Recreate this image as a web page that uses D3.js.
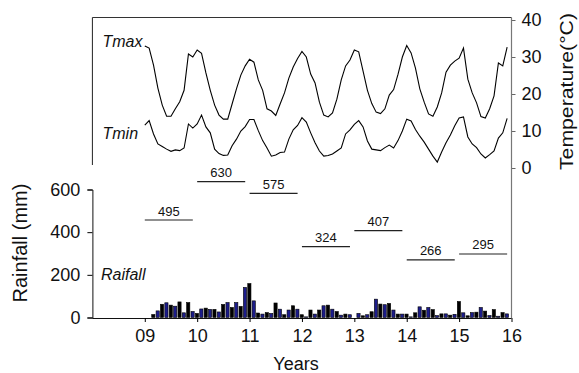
<!DOCTYPE html>
<html><head><meta charset="utf-8">
<script src="https://cdn.jsdelivr.net/npm/d3@7"></script>
<style>
html,body{margin:0;padding:0;background:#fff;}
svg{display:block;font-family:"Liberation Sans",Arial,sans-serif;}
</style></head>
<body><svg id="c" width="579" height="373"></svg>
<script>
// Monthly series, Jan 2009 .. Dec 2015
const startYear = 2009;
const tmax = [
 33.0,32.4,27.8,21.6,17.0,14.0,14.0,16.0,17.9,21.0,30.8,30.0,
 31.9,31.0,25.7,21.0,17.0,14.3,13.2,13.2,17.3,21.4,25.1,27.6,
 29.4,28.6,23.8,21.0,16.0,15.4,14.2,17.3,20.3,24.3,27.3,29.6,
 31.5,30.0,25.4,23.0,17.8,14.3,13.8,14.9,18.6,23.8,27.6,29.2,
 31.9,31.4,26.2,21.0,17.4,15.1,14.7,16.0,19.7,21.2,25.3,30.0,
 33.1,31.1,27.0,21.4,17.8,14.6,14.0,16.5,20.3,25.9,27.8,28.9,
 29.7,32.4,24.0,20.3,17.6,13.9,13.5,16.0,19.5,28.4,27.6,32.7];
const tmin = [
 11.6,12.8,9.2,6.5,5.8,5.1,4.5,4.9,4.7,5.4,11.9,10.8,
 11.9,14.3,11.1,9.5,5.1,3.9,3.4,3.5,6.0,7.8,10.0,11.2,
 13.1,13.1,10.1,7.4,5.4,3.2,3.5,4.2,4.3,7.8,10.3,11.5,
 13.6,12.4,9.5,6.8,4.6,3.2,3.4,3.8,4.6,5.4,9.2,10.3,
 11.8,12.8,11.1,7.3,5.1,4.9,4.7,5.5,6.2,5.4,7.4,10.0,
 13.2,12.7,10.4,8.6,7.0,5.1,3.2,1.6,4.3,6.8,8.9,11.4,
 13.5,13.8,8.4,6.5,5.5,3.8,2.7,3.6,4.6,8.1,9.5,13.4];
const rainfall = [
 null,null,14,31,62,69,58,53,73,22,70,28,
 19,40,44,38,38,26,61,70,47,70,52,141,
 159,78,21,16,23,19,68,39,13,35,55,39,
 13,3,35,16,35,55,58,39,28,11,16,13,
 0,19,8,13,27,86,63,60,66,35,16,16,
 16,3,22,50,34,47,37,9,17,17,11,15,
 75,22,8,23,25,47,30,9,37,6,23,17];
const totalYears = [2009,2010,2011,2012,2013,2014,2015];
const totalLabels = [495,630,575,324,407,266,295];
const totalLineLevels = [457,637,582,332,407,270,298];
const yearTicks = [2009,2010,2011,2012,2013,2014,2015,2016];
const rainTicks = [0,200,400,600];
const tempTicks = [0,10,20,30,40];

const svg = d3.select("#c");
const x = d3.scaleLinear().domain([2008,2016]).range([92.4,511.5]);
const yT = d3.scaleLinear().domain([0,40]).range([168,20]);
const yR = d3.scaleLinear().domain([0,600]).range([317.5,189.5]);
const t = i => startYear + i/12;

// frame: top line and left upper line
svg.append("line").attr("x1",92.4).attr("x2",511.5).attr("y1",17.5).attr("y2",17.5)
  .attr("stroke","#333").attr("stroke-width",1);
svg.append("line").attr("x1",92.4).attr("x2",92.4).attr("y1",17.5).attr("y2",165)
  .attr("stroke","#222").attr("stroke-width",1);

// Rain axis (left)
const gL = svg.append("g").attr("transform","translate(92.4,0)")
  .call(d3.axisLeft(yR).tickValues(rainTicks).tickSize(5).tickPadding(7).tickFormat(d3.format("d")));
gL.select(".domain").attr("stroke","#111");
gL.selectAll("text").attr("font-size",18).attr("fill","#111").attr("font-family","Liberation Sans, Arial, sans-serif");

// Temperature axis (right)
const gR = svg.append("g").attr("transform","translate(511.5,0)")
  .call(d3.axisRight(yT).tickValues(tempTicks).tickSize(4).tickPadding(6));
gR.select(".domain").remove();
gR.selectAll(".tick line").attr("stroke","#666");
gR.selectAll("text").attr("font-size",18).attr("fill","#111").attr("font-family","Liberation Sans, Arial, sans-serif");
svg.append("line").attr("x1",511.5).attr("x2",511.5).attr("y1",17.5).attr("y2",318)
  .attr("stroke","#777").attr("stroke-width",1.2);

// Bottom axis
const gB = svg.append("g").attr("transform","translate(0,318)")
  .call(d3.axisBottom(x).tickValues(yearTicks).tickSize(4).tickPadding(7)
    .tickFormat(d => d3.format("02d")(d-2000)));
gB.select(".domain").attr("stroke","#111").attr("d","M92.4,0.5H511.5");
gB.selectAll("text").attr("font-size",18).attr("fill","#111").attr("font-family","Liberation Sans, Arial, sans-serif");

// Bars
svg.append("g").selectAll("rect")
  .data(rainfall.map((v,i)=>({v,i})).filter(d=>d.v!==null))
  .join("rect")
  .attr("x",d=>x(t(d.i))-1.8)
  .attr("width",3.2)
  .attr("y",d=>yR(d.v))
  .attr("height",d=>Math.max(0,yR(0)-yR(d.v)))
  .attr("fill",d=>d.i%2 ? "#1c1c8a" : "#000")
  .attr("stroke","#000").attr("stroke-width",0.6);

// Temperature lines
const line = d3.line().x((d,i)=>x(t(i))).y(d=>yT(d));
svg.append("path").datum(tmax).attr("d",line).attr("fill","none")
  .attr("stroke","#000").attr("stroke-width",1.1);
svg.append("path").datum(tmin).attr("d",line).attr("fill","none")
  .attr("stroke","#000").attr("stroke-width",1.1);

// Annual totals
const gTot = svg.append("g");
totalYears.forEach((yr,k)=>{
  gTot.append("line").attr("x1",x(yr)).attr("x2",x(yr+11/12))
    .attr("y1",yR(totalLineLevels[k])).attr("y2",yR(totalLineLevels[k]))
    .attr("stroke","#222").attr("stroke-width",1.1);
  gTot.append("text").attr("x",x(yr+11/24)).attr("y",yR(totalLineLevels[k])-4.5)
    .attr("text-anchor","middle").attr("font-size",13).attr("fill","#111")
    .text(totalLabels[k]);
});

// Series labels
const lab = (txt,xx,yy)=>svg.append("text").attr("x",xx).attr("y",yy)
  .attr("font-size",16).attr("font-style","italic").attr("fill","#111").text(txt);
lab("Tmax",102.5,46.5);
lab("Tmin",102.5,138.5);
lab("Raifall",101,279.5);

// Axis titles
svg.append("text").attr("x",296).attr("y",369.5).attr("text-anchor","middle")
  .attr("font-size",18).attr("fill","#111").text("Years");
svg.append("text").attr("transform","translate(27,243) rotate(-90)")
  .attr("text-anchor","middle").attr("font-size",20).attr("fill","#111").text("Rainfall (mm)");
svg.append("text").attr("transform","translate(573,91.5) rotate(-90)")
  .attr("text-anchor","middle").attr("font-size",19).attr("fill","#111")
  .attr("textLength",157).attr("lengthAdjust","spacingAndGlyphs").text("Temperature(°C)");
</script></body></html>
